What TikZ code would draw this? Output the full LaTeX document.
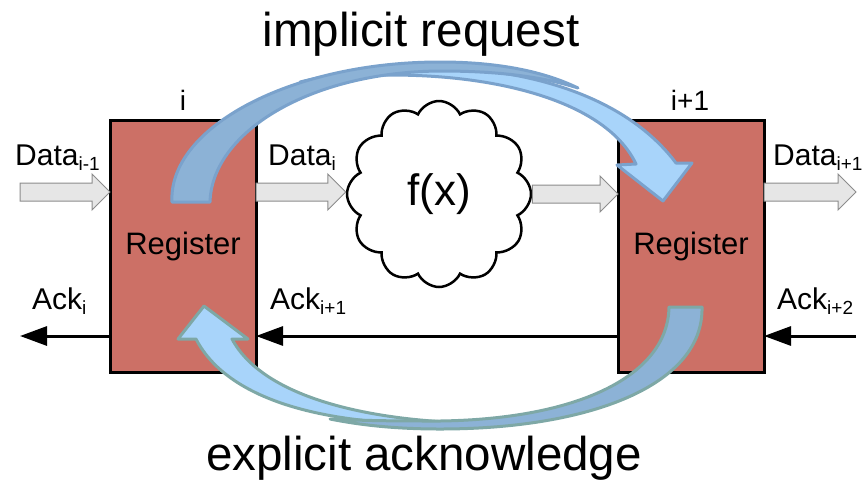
\documentclass[tikz,border=0pt]{standalone}
\usepackage{fontspec}
\setmainfont{Liberation Sans}
\usetikzlibrary{shapes.symbols,arrows.meta,calc}

\definecolor{regred}{RGB}{204,112,102}
\definecolor{blkfill}{RGB}{230,230,230}
\definecolor{blkline}{RGB}{140,140,140}
\definecolor{backblue}{RGB}{140,178,214}
\definecolor{frontblue}{RGB}{168,212,250}
\definecolor{reqedge}{RGB}{122,162,204}
\definecolor{ackedge}{RGB}{126,168,166}

% subscript set lower and smaller, as in the labels
\newcommand\lowsub[1]{\raisebox{-5pt}{\fontsize{19}{19}\selectfont #1}}

% block arrow between two named points (same height)
\newcommand\blockarr[2]{%
  \draw[datablk] let \p1=(#1), \p2=(#2) in
    (\x1,\y1+9pt) -- (\x2-18pt,\y1+9pt) -- (\x2-18pt,\y1+18pt) -- (\x2,\y1)
    -- (\x2-18pt,\y1-18pt) -- (\x2-18pt,\y1-9pt) -- (\x1,\y1-9pt) -- cycle;}

\begin{document}
\begin{tikzpicture}[x=1pt,y=-1pt,
  regbox/.style={draw=black, line width=3pt, fill=regred, minimum width=146pt,
    minimum height=252pt, inner sep=0pt, outer sep=0pt,
    font=\fontsize{31}{36}\selectfont},
  datablk/.style={fill=blkfill, draw=blkline, line width=1pt, line join=miter},
  ackline/.style={line width=3pt, -{Triangle[length=27pt,width=19pt]}},
  lbl/.style={inner sep=0pt, font=\fontsize{30}{36}\selectfont},
  idx/.style={inner sep=0pt, anchor=base, font=\fontsize{28}{32}\selectfont},
  title/.style={inner sep=0pt, anchor=base, font=\fontsize{47.5}{56}\selectfont},
  reqshape/.style={draw=reqedge, line width=3pt, line join=round},
  ackshape/.style={draw=ackedge, line width=3pt, line join=round}]

\useasboundingbox (0,0) rectangle (864,483);

% registers
\node[regbox] (regL) at (183,246) {Register};
\node[regbox] (regR) at (691,246) {Register};
\node[idx] (idxL) at (183,110) {i};
\node[idx] (idxR) at (690,110) {i+1};

% combinational function
\node[cloud, cloud puffs=12, cloud puff arc=130, aspect=1, draw=black,
  line width=2.5pt, fill=white, minimum width=184pt, minimum height=186pt,
  inner sep=0pt, font=\fontsize{44}{50}\selectfont] (fx) at (439,194) {f(x)};

% free ends of the pipeline
\coordinate (din)  at (20,192);
\coordinate (dout) at (856,192);
\coordinate (ackin)  at (856,336);
\coordinate (ackout) at (20,336);

% data path
\blockarr{din}{regL.west |- din}
\blockarr{regL.east |- din}{fx.west}
\blockarr{fx.east}{regR.west |- din}
\blockarr{regR.east |- din}{dout}

% acknowledge path
\draw[ackline] (regL.west |- ackout) -- (ackout);
\draw[ackline] (regR.west |- ackout) -- (regL.east |- ackout);
\draw[ackline] (ackin) -- (regR.east |- ackin);

% signal labels
\node[lbl, anchor=base west] (lDa) at (15,165) {Data\lowsub{i-1}};
\node[lbl, anchor=base west] (lDb) at (268,165) {Data\lowsub{i}};
\node[lbl, anchor=base west] (lDc) at (773,165) {Data\lowsub{i+1}};
\node[lbl, anchor=base west] (lAa) at (32,309) {Ack\lowsub{i}};
\node[lbl, anchor=base west] (lAb) at (270,309) {Ack\lowsub{i+1}};
\node[lbl, anchor=base west] (lAc) at (777,309) {Ack\lowsub{i+2}};

% implicit request: curved ribbon arrow from register i to register i+1
\path[reqshape, fill=frontblue]
  (300,82) .. controls (420,52) and (600,62) .. (676,163)
  -- (692,163) -- (663,201) -- (617,165) -- (636,164)
  .. controls (598,84) and (430,62) .. (300,82) -- cycle;
\path[reqshape, fill=backblue]
  (172,202) .. controls (168,128) and (290,62) .. (440,62)
  .. controls (500,62) and (545,72) .. (578,88)
  .. controls (540,76) and (495,71) .. (440,71)
  .. controls (310,72) and (212,132) .. (210,202) -- cycle;

% explicit acknowledge: curved ribbon arrow from register i+1 back to register i
\path[ackshape, fill=frontblue]
  (196,339) -- (178,339) -- (204,306) -- (248,339) -- (232,339)
  .. controls (262,395) and (360,420) .. (470,423)
  .. controls (340,429) and (230,405) .. (196,339) -- cycle;
\path[ackshape, fill=backblue]
  (669,307) -- (702,307) .. controls (704,385) and (590,429) .. (440,429)
  .. controls (395,429) and (360,425) .. (330,419)
  .. controls (370,421) and (405,421) .. (440,421)
  .. controls (580,419) and (668,375) .. (669,307) -- cycle;

% captions
\node[title] (treq) at (421,46) {implicit request};
\node[title] (tack) at (424,470) {explicit acknowledge};

\end{tikzpicture}
\end{document}
